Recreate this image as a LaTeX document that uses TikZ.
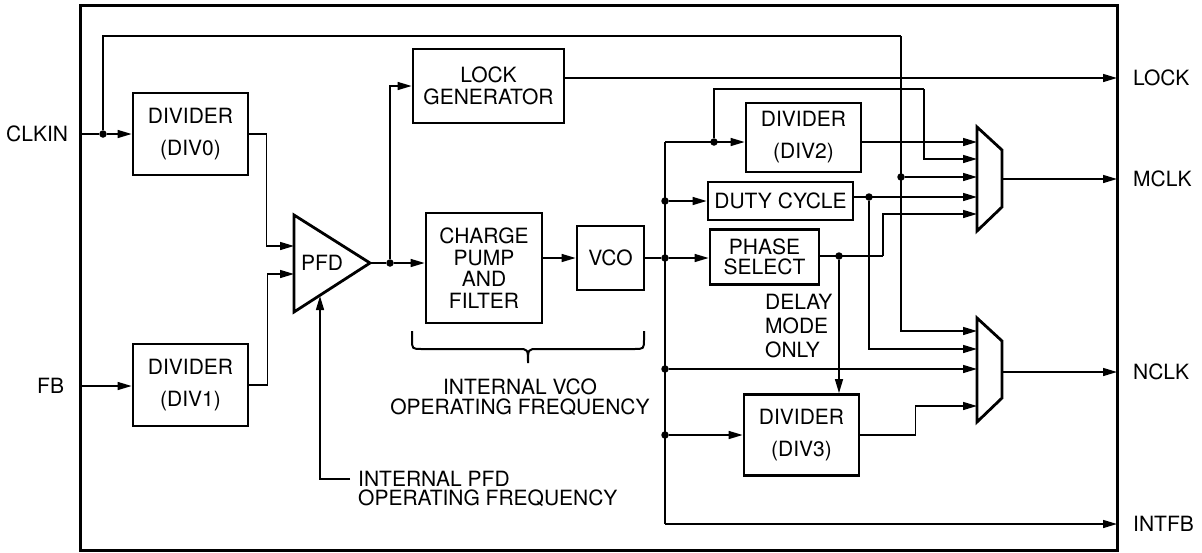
\documentclass[tikz,border=0pt]{standalone}
\usepackage{fontspec}
\setmainfont{TeX Gyre Heros}
\usetikzlibrary{arrows.meta,calc}
\begin{document}
\begin{tikzpicture}[x=1pt,y=-1pt,
  wire/.style={line width=1.4pt},
  arr/.style={wire,-{Triangle[length=14pt,width=8pt]}},
  blk/.style={draw,line width=2.8pt,inner sep=0pt,align=center,font=\fontsize{21}{21.5}\selectfont},
  divblk/.style={blk,font=\fontsize{21}{32}\selectfont},
  lbl/.style={inner sep=0pt,font=\fontsize{21}{21.5}\selectfont},
  dot/.style={circle,fill,inner sep=0pt,minimum size=7.5pt},
  thick shape/.style={line width=2.8pt,line join=miter},
]
\useasboundingbox (0,0) rectangle (1202,552);
% frame
\draw[line width=3pt] (80.5,5) rectangle (1117.5,550);

% outside labels
\node[lbl,anchor=west] (clkinl) at (6,134) {CLKIN};
\node[lbl,anchor=west] (fbl) at (37,386) {FB};
\node[lbl,anchor=west] (lockl) at (1133,78) {LOCK};
\node[lbl,anchor=west] (mclkl) at (1133,179) {MCLK};
\node[lbl,anchor=west] (nclkl) at (1133,372) {NCLK};
\node[lbl,anchor=west] (intfbl) at (1133,524) {INTFB};

% port coordinates on the frame
\coordinate (clkin) at (80,134);
\coordinate (fbin) at (80,386);
\coordinate (lockout) at (1117,78);
\coordinate (mclk) at (1117,179);
\coordinate (nclk) at (1117,372);
\coordinate (intfb) at (1117,524);

% blocks
\node[divblk,minimum width=115pt,minimum height=82pt] (div0) at (190.5,134) {DIVIDER\\(DIV0)};
\node[divblk,minimum width=115pt,minimum height=82pt] (div1) at (190.5,385) {DIVIDER\\(DIV1)};
\node[blk,minimum width=151pt,minimum height=74pt] (lockgen) at (488.5,86) {LOCK\\GENERATOR};
\node[blk,minimum width=116pt,minimum height=110pt] (cp) at (484,268) {CHARGE\\PUMP\\AND\\FILTER};
\node[blk,minimum width=67pt,minimum height=64pt] (vco) at (610.5,258) {VCO};
\node[divblk,minimum width=115pt,minimum height=69pt] (div2) at (803.5,137.5) {DIVIDER\\(DIV2)};
\node[blk,minimum width=145pt,minimum height=38pt] (duty) at (780.5,201) {DUTY CYCLE};
\node[blk,minimum width=109pt,minimum height=55pt,font=\fontsize{21}{20}\selectfont] (phase) at (764.5,257) {PHASE\\SELECT};
\node[divblk,minimum width=115pt,minimum height=81pt] (div3) at (801.5,435) {DIVIDER\\(DIV3)};

% PFD triangle
\coordinate (pA) at (294,215);
\coordinate (pB) at (294,312);
\coordinate (pC) at (370,263);
\draw[thick shape] (pA) -- (pC) -- (pB) -- cycle;
\node[lbl] (pfd) at (322,263) {PFD};
\coordinate (pfdi1) at (294,246);
\coordinate (pfdi2) at (294,274);
\coordinate (pfdb) at (320,296);

% multiplexers
\draw[thick shape] (977,127) -- (1002,150) -- (1002,207) -- (977,231) -- cycle;
\draw[thick shape] (977,318) -- (1002,341) -- (1002,398) -- (977,422) -- cycle;
\coordinate (m1i1) at (977,142);
\coordinate (m1i2) at (977,159);
\coordinate (m1i3) at (977,177);
\coordinate (m1i4) at (977,197);
\coordinate (m1i5) at (977,214);
\coordinate (m1o) at (1002,179);
\coordinate (m2i1) at (977,331);
\coordinate (m2i2) at (977,349);
\coordinate (m2i3) at (977,369);
\coordinate (m2i4) at (977,406);
\coordinate (m2o) at (1002,372);

% notes
\coordinate (pfdn) at (350,479);
\node[lbl,anchor=west,align=left,font=\fontsize{21}{19.5}\selectfont] (pfdnote) at (358,489) {INTERNAL PFD\\OPERATING FREQUENCY};
\node[lbl,align=center,font=\fontsize{21}{19.5}\selectfont] (vconote) at (520,397) {INTERNAL VCO\\OPERATING FREQUENCY};
\node[lbl,anchor=west,align=left,font=\fontsize{21}{24}\selectfont] (delay) at (765,326) {DELAY\\MODE\\ONLY};
\draw[line width=2pt] (412,331) -- (412,339) .. controls (412,349) .. (422,349) -- (518,349)
  .. controls (528,349) .. (528,363) .. controls (528,349) .. (538,349) -- (634,349)
  .. controls (644,349) .. (644,339) -- (644,331);

% junction dots
\node[dot] (d0) at (103,134) {};
\coordinate (byT) at (901,36);
\node[dot] (byD) at (901,177) {};
\node[dot] (dp) at (390,263) {};
\coordinate (bustop) at (665,142);
\coordinate (busbot) at (665,524);
\node[dot] (db1) at (665,201) {};
\node[dot] (db2) at (665,258) {};
\node[dot] (db3) at (665,369) {};
\node[dot] (db4) at (665,435) {};
\node[dot] (d2) at (714,142) {};
\coordinate (l2) at (924,89);
\node[dot] (dd) at (869,197) {};
\node[dot] (dph) at (839,256) {};
\coordinate (ph2) at (883,256);

% left side
\draw[wire] (clkin) -- (d0);
\draw[arr] (d0) -- (div0.west);
\draw[wire] (d0) |- (byT);
\draw[arr] (byT) |- (m2i1);
\draw[arr] (byD) -- (m1i3);
\draw[arr] (fbin) -- (div1.west |- fbin);
\draw[arr] (div0.east) -- ++(17,0) |- (pfdi1);
\draw[arr] (div1.east) -- ++(18,0) |- (pfdi2);
\draw[arr] (pfdn) -| (pfdb);

% PFD output
\draw[wire] (pC) -- (dp);
\draw[arr] (dp) -- (cp.west |- dp);
\draw[arr] (dp) |- (lockgen.west);
\draw[arr] (lockgen.east |- lockout) -- (lockout);
\draw[arr] (cp.east |- vco.west) -- (vco.west);
\draw[wire] (vco.east) -- (db2);

% bus
\draw[wire] (bustop) -- (busbot);
\draw[arr] (busbot) -- (intfb);
\draw[arr] (bustop) -- (div2.west |- bustop);
\draw[arr] (db1) -- (duty.west |- db1);
\draw[arr] (db2) -- (phase.west |- db2);
\draw[arr] (db3) -- (m2i3);
\draw[arr] (db4) -- (div3.west |- db4);

% right side
\draw[wire] (d2) |- (l2);
\draw[arr] (l2) |- (m1i2);
\draw[arr] (div2.east |- m1i1) -- (m1i1);
\draw[arr] (duty.east |- m1i4) -- (m1i4);
\draw[arr] (dd) |- (m2i2);
\draw[wire] (phase.east |- dph) -- (ph2);
\draw[arr] (ph2) |- (m1i5);
\draw[arr] (dph) -- (div3.north -| dph);
\draw[arr] (div3.east) -- ++(55,0) |- (m2i4);
\draw[arr] (m1o) -- (mclk);
\draw[arr] (m2o) -- (nclk);
\end{tikzpicture}
\end{document}
